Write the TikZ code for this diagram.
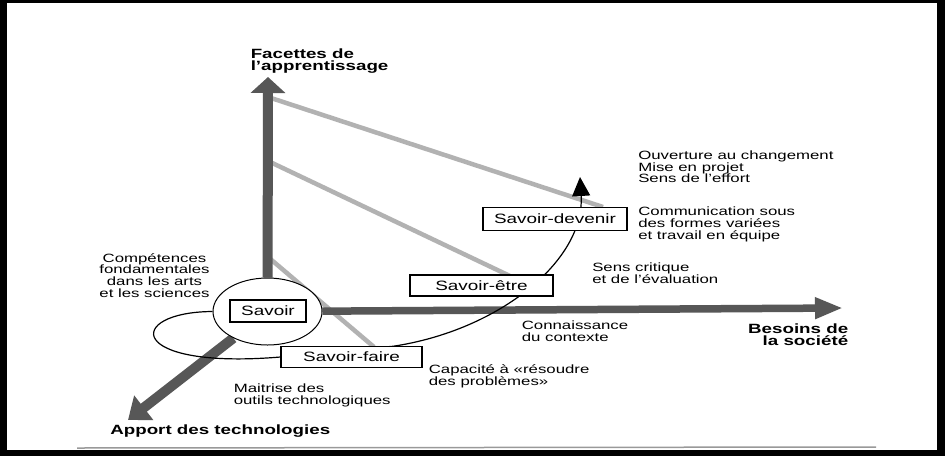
\documentclass[tikz,border=0pt]{standalone}
\usepackage{fontspec}
\usepackage{graphicx}
\setmainfont{Liberation Sans}
\usetikzlibrary{arrows.meta,shapes.geometric}
\pgfdeclarelayer{cadre}\pgfdeclarelayer{fond}
\pgfsetlayers{cadre,fond,main}
\newcommand{\wide}[1]{\scalebox{1.4}[1]{#1}}
\tikzset{
  axe/.style={draw=black!66},
  trait/.style={draw=black!30,line width=4.5pt},
  spire/.style={line width=1.2pt,-{Triangle[length=19pt,width=18pt]}},
  savbox/.style={draw,fill=white,line width=1.1pt,inner sep=0pt,font=\fontsize{13.5}{13.5}\selectfont},
  note/.style={inner sep=0pt,xscale=1.4,align=left,font=\fontsize{12}{11.7}\selectfont},
  titre/.style={note,font=\bfseries\fontsize{13.4}{12}\selectfont}
}
\begin{document}
\begin{tikzpicture}[x=1pt,y=-1pt]
  \begin{pgfonlayer}{cadre}
    \fill[black] (0,0) rectangle (945,456); \fill[white] (7,3) rectangle (937,450);
    \draw[black!40,line width=1.5pt] (77,448) -- (876,447);
  \end{pgfonlayer}
  \useasboundingbox (0,0) rectangle (945,456);

  \coordinate (haut) at (268,77); \coordinate (droite) at (843,308); \coordinate (bas) at (128,420);
  \coordinate (devenir) at (580,177);

  \node[draw,fill=white,ellipse,line width=1pt,inner sep=0pt,minimum width=109pt,minimum height=67pt] (hub) at (267.5,311.5) {};
  \node[savbox,minimum width=76pt,minimum height=22pt] (sv) at (268,311) {\wide{Savoir}};
  \node[savbox,minimum width=143pt,minimum height=21pt] (se) at (481.5,285.5) {\wide{Savoir-être}};
  \node[savbox,minimum width=141pt,minimum height=20.5pt] (sf) at (351.5,357) {\wide{Savoir-faire}};
  \node[savbox,minimum width=144pt,minimum height=23.5pt] (sd) at (555,219) {\wide{Savoir-devenir}};

  \begin{pgfonlayer}{fond}
    \coordinate (g1) at (268,97); \coordinate (g2) at (268,161); \coordinate (g3) at (268,257);
    \draw[trait] (g1) -- (603,207); \draw[trait] (g2) -- (510,276); \draw[trait] (g3) -- (374,347);
    \draw[axe,line width=10pt,-{Triangle[length=16pt,width=34pt]}] (hub) -- (haut);
    \draw[axe,line width=7.5pt,-{Triangle[length=28pt,width=20pt]}] (hub) -- (droite);
    \draw[axe,line width=10pt,-{Triangle[length=20pt,width=30pt]}] (hub) -- (bas);
    \draw[spire] (hub.west) .. controls (125,312) and (125,370) .. (sf.west)
      -- ([xshift=-29pt]sf.north east) .. controls (500,330) and (585,260) .. (devenir);
  \end{pgfonlayer}

  \node[titre,anchor=north west] (facettes) at (250.5,49) {Facettes de\\l'apprentissage};
  \node[note,anchor=north west] (ouv) at (638,150.5) {Ouverture au changement\\Mise en projet\\Sens de l'effort};
  \node[note,anchor=north west] (comm) at (638,207) {Communication sous\\des formes variées\\et travail en équipe};
  \node[note,anchor=north west] (crit) at (592,262.5) {Sens critique\\et de l'évaluation};
  \node[note,align=center,anchor=north] (comp) at (154.5,253) {Compétences\\fondamentales\\dans les arts\\et les sciences};
  \node[note,anchor=north west] (ctx) at (521.5,321) {Connaissance\\du contexte};
  \node[titre,align=right,anchor=north east] (besoins) at (848.5,323.5) {Besoins de\\la société};
  \node[note,anchor=north west] (cap) at (428.5,364.5) {Capacité à «résoudre\\des problèmes»};
  \node[note,anchor=north west] (outils) at (233.5,383.5) {Maitrise des\\outils technologiques};
  \node[titre,anchor=north west] (apport) at (110,424.5) {Apport des technologies};
\end{tikzpicture}
\end{document}
